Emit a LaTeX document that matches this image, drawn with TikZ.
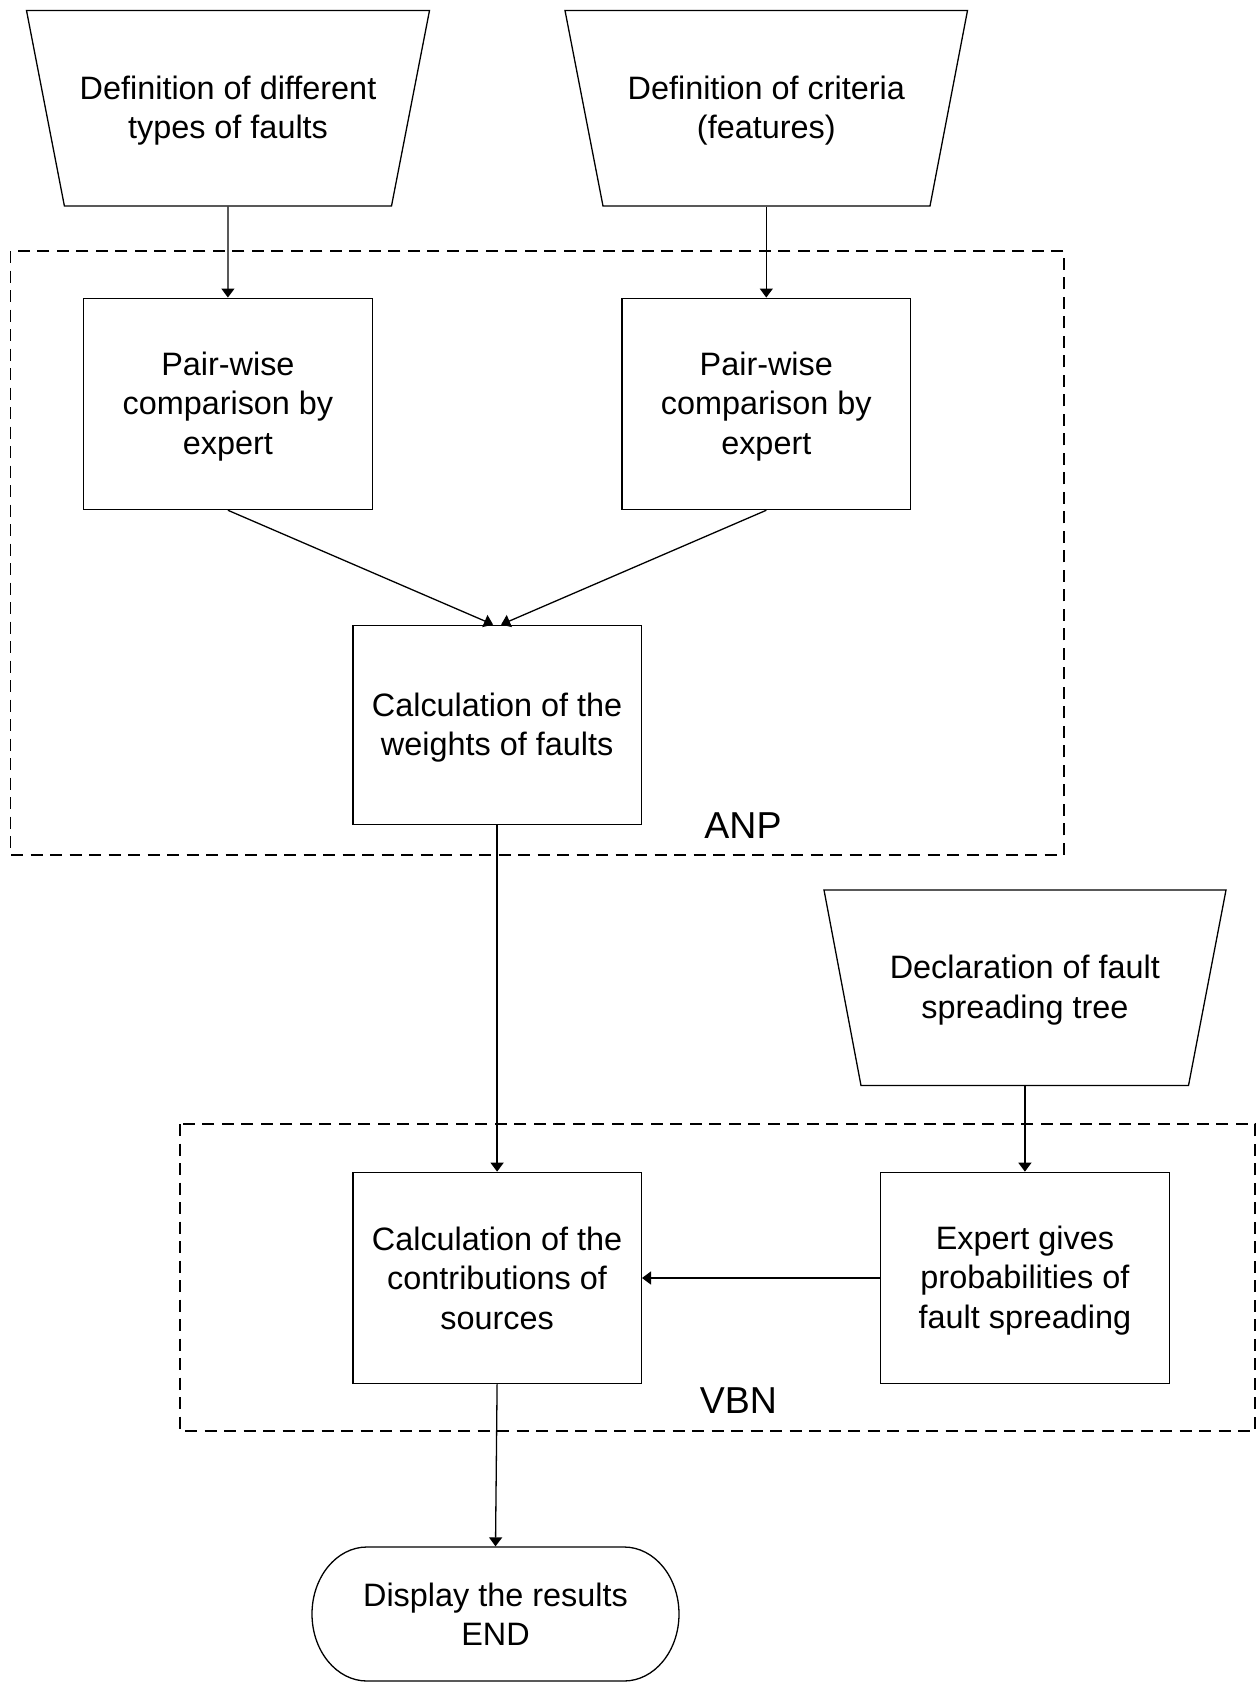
\documentclass[tikz,border=0pt]{standalone}
\usepackage{fontspec}
\setmainfont{Liberation Sans}
\usetikzlibrary{arrows.meta}
\begin{document}
\begin{tikzpicture}[x=1pt,y=-1pt,line width=1.3pt,
  txt/.style={font=\fontsize{32.4pt}{39.5pt}\selectfont,align=center,inner sep=0pt},
  procbox/.style={txt,draw,minimum width=288.5pt,minimum height=211.4pt},
  trapnode/.style={txt,minimum width=326pt,minimum height=190.5pt},
  lowtext/.style={label={[txt,yshift=-2.5pt]center:{#1}}},
  grouplbl/.style={font=\fontsize{37.5pt}{44pt}\selectfont,inner sep=0pt},
  grp/.style={dash pattern=on 12pt off 7.5pt},
  arr/.style={-{Triangle[length=9pt,width=13pt]}}]
\useasboundingbox (0,0) rectangle (1256,1682);
% group frames
\draw[grp] (10.7,251) rectangle (1064,855);
\draw[grp] (180,1124) rectangle (1255,1431);
\node[grouplbl] (anp) at (743,825.5) {ANP};
\node[grouplbl] (vbn) at (738.5,1401) {VBN};
% trapezoids (manual input)
\draw (26.5,10.5) -- (429.5,10.5) -- (391.5,206) -- (64.4,206) -- cycle;
\node[trapnode] (t1) at (228,110.75) {Definition of different\\types of faults};
\draw (565,10.5) -- (967.5,10.5) -- (930,206) -- (603,206) -- cycle;
\node[trapnode] (t2) at (766.3,110.75) {Definition of criteria\\(features)};
\draw (824,890) -- (1226,890) -- (1188.5,1085.5) -- (861,1085.5) -- cycle;
\node[trapnode] (t3) at (1024.9,990.25) {Declaration of fault\\spreading tree};
% process boxes
\node[procbox,lowtext={Pair-wise\\comparison by\\expert}] (b1) at (227.9,403.9) {};
\node[procbox,lowtext={Pair-wise\\comparison by\\expert}] (b2) at (766.3,403.9) {};
\node[procbox,minimum height=199.5pt,lowtext={Calculation of the\\weights of faults}] (w) at (497.1,725) {};
\node[procbox] (c) at (497.1,1278) {Calculation of the\\contributions of\\sources};
\node[procbox,lowtext={Expert gives\\probabilities of\\fault spreading}] (e) at (1024.9,1278) {};
% terminal
\draw (367,1547) -- (624,1547) arc[start angle=-90,end angle=90,x radius=55,y radius=67]
      -- (367,1681) arc[start angle=90,end angle=270,x radius=55,y radius=67] -- cycle;
\node[txt,minimum width=367pt,minimum height=134pt] (term) at (495.5,1614) {Display the results\\END};
% connectors
\draw[arr] (t1.south) -- (b1.north);
\draw[arr] (t2.south) -- (b2.north);
\draw[arr] (b1.south) -- ([xshift=-4pt]w.north);
\draw[arr] (b2.south) -- ([xshift=4pt]w.north);
\draw[arr] (w.south) -- (c.north);
\draw[arr] (t3.south) -- (e.north);
\draw[arr] (e.west) -- (c.east);
\draw[arr] (c.south) -- (term.north);
\end{tikzpicture}
\end{document}
